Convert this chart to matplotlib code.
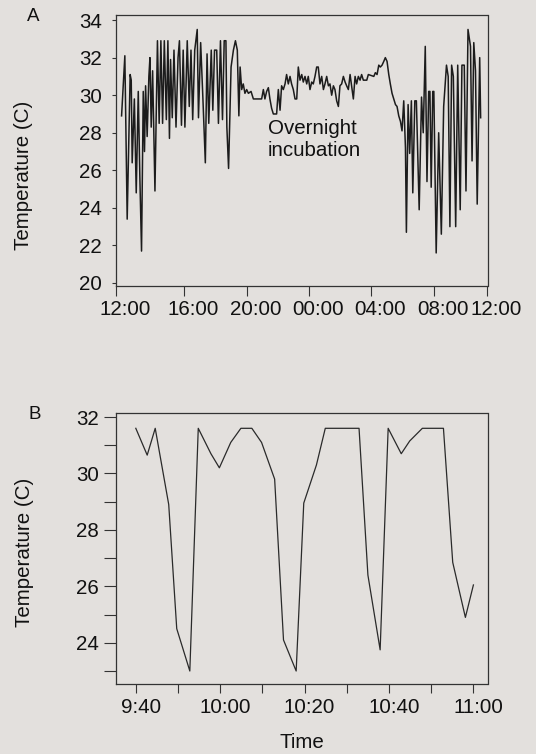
import matplotlib
matplotlib.use("Agg")
import matplotlib.pyplot as plt
from matplotlib.transforms import ScaledTranslation

plt.rcParams['font.family'] = ['Liberation Sans', 'DejaVu Sans']

# Panel A: hours since midnight of day 1, temperature (C)
a_hours = [
    11.98, 12.19, 12.34, 12.53, 12.60, 12.66, 12.80, 12.92, 13.05, 13.15,
    13.26, 13.37, 13.45, 13.52, 13.62, 13.73, 13.80, 13.88, 13.97, 14.12,
    14.28, 14.39, 14.50, 14.61, 14.72, 14.85, 14.95, 15.05, 15.12, 15.23,
    15.34, 15.47, 15.60, 15.69, 15.82, 15.93, 16.04, 16.19, 16.32, 16.43,
    16.54, 16.67, 16.83, 16.91, 17.05, 17.20, 17.35, 17.46, 17.57, 17.73,
    17.83, 17.94, 18.08, 18.19, 18.32, 18.45, 18.56, 18.67, 18.73, 18.84,
    19.00, 19.15, 19.28, 19.40, 19.50, 19.58, 19.68, 19.78, 19.89, 20.00,
    20.11, 20.28, 20.43, 20.96, 21.07, 21.17, 21.28, 21.39, 21.49, 21.60,
    21.71, 21.92, 22.03, 22.14, 22.24, 22.35, 22.46, 22.56, 22.67, 22.78,
    22.88, 22.99, 23.10, 23.21, 23.31, 23.42, 23.53, 23.63, 23.74, 23.85,
    23.95, 24.06, 24.17, 24.27, 24.38, 24.49, 24.59, 24.70, 24.81, 24.92,
    25.02, 25.13, 25.24, 25.34, 25.45, 25.56, 25.66, 25.77, 25.88, 25.98,
    26.09, 26.20, 26.31, 26.41, 26.52, 26.63, 26.73, 26.84, 26.95, 27.05,
    27.16, 27.27, 27.37, 27.48, 27.70, 27.80, 28.15, 28.25, 28.36, 28.47,
    28.57, 28.68, 28.79, 28.89, 29.00, 29.11, 29.21, 29.32, 29.43, 29.54,
    29.64, 29.75, 29.86, 29.96, 30.07, 30.18, 30.24, 30.35, 30.45, 30.56,
    30.65, 30.78, 30.88, 31.06, 31.21, 31.32, 31.45, 31.56, 31.67, 31.75,
    31.83, 31.93, 32.00, 32.15, 32.31, 32.48, 32.63, 32.81, 32.92, 33.03,
    33.14, 33.25, 33.40, 33.53, 33.69, 33.80, 33.95, 34.06, 34.19, 34.35,
    34.45, 34.56, 34.67, 34.78, 34.94, 35.00,
]
a_temp = [
    28.9, 32.1, 23.4, 31.1, 30.8, 26.4, 29.8, 24.8, 30.2, 25.7,
    21.7, 30.2, 27.0, 30.5, 27.8, 31.0, 32.0, 28.3, 31.3, 24.9,
    32.9, 28.5, 32.9, 28.5, 32.9, 28.7, 32.9, 27.7, 31.9, 28.8,
    32.4, 28.3, 32.0, 32.9, 28.4, 32.4, 28.3, 32.9, 29.4, 32.4,
    28.7, 32.4, 33.5, 28.8, 32.8, 29.7, 26.4, 32.2, 28.5, 32.4,
    29.2, 32.4, 32.4, 28.5, 32.9, 28.7, 32.9, 32.9, 28.3, 26.1,
    31.5, 32.4, 32.9, 32.4, 28.9, 31.5, 30.3, 30.6, 30.1, 30.3,
    30.1, 30.2, 29.8, 29.8, 30.3, 29.8, 30.2, 30.4, 29.8, 29.3,
    29.0, 29.0, 30.3, 29.2, 30.5, 30.3, 30.6, 31.1, 30.6, 31.0,
    30.6, 30.3, 29.8, 29.8, 31.5, 30.8, 31.1, 30.7, 31.0, 30.6,
    31.0, 30.3, 30.7, 30.6, 31.0, 31.5, 31.5, 30.6, 31.0, 30.3,
    30.6, 31.0, 30.5, 30.6, 30.0, 30.5, 30.3, 29.7, 29.4, 30.5,
    30.6, 31.0, 30.7, 30.5, 30.3, 31.1, 30.5, 29.8, 31.0, 30.6,
    31.0, 30.8, 31.1, 30.8, 30.8, 31.1, 31.0, 31.2, 31.1, 31.6,
    31.5, 31.6, 31.8, 32.0, 31.8, 31.1, 30.6, 30.1, 29.8, 29.5,
    29.4, 28.9, 28.6, 28.1, 29.7, 27.2, 22.7, 29.5, 26.9, 29.7,
    24.8, 29.7, 29.7, 23.9, 29.9, 28.0, 32.6, 25.4, 30.2, 30.2,
    25.1, 30.2, 30.2, 21.6, 28.0, 22.6, 29.4, 31.6, 31.0, 23.0,
    31.6, 31.0, 23.0, 31.6, 23.9, 31.6, 31.6, 24.9, 33.5, 32.6,
    26.5, 32.8, 31.3, 24.2, 32.0, 28.8,
]
a_ticks = [11.61, 16, 20, 24, 28, 32, 35.44]
a_ticklabels = ['12:00', '16:00', '20:00', '00:00', '04:00', '08:00', '12:00']
a_yticks = [20, 22, 24, 26, 28, 30, 32, 34]

# Panel B: minutes after 9:00, temperature (C)
b_minutes = [
    40.0, 42.7, 44.6, 47.8, 49.7, 52.8, 54.8, 57.8, 59.8, 62.5,
    64.9, 67.5, 69.8, 72.9, 75.0, 78.0, 79.8, 82.8, 84.9, 92.9,
    95.0, 97.9, 99.8, 102.9, 104.9, 107.9, 112.9, 115.1, 118.1, 120.0,
]
b_temp = [
    31.6, 30.65, 31.6, 28.9, 24.5, 23.0, 31.6, 30.7, 30.2, 31.1,
    31.6, 31.6, 31.1, 29.8, 24.1, 23.0, 28.95, 30.3, 31.6, 31.6,
    26.4, 23.75, 31.6, 30.7, 31.15, 31.6, 31.6, 26.85, 24.9, 26.05,
]
b_ticks = [40, 60, 80, 100, 120]
b_ticklabels = ['9:40', '10:00', '10:20', '10:40', '11:00']
b_minor_x = [50, 70, 90, 110]
b_yticks = [24, 26, 28, 30, 32]
b_minor_y = [23, 25, 27, 29, 31]

bg = '#e3e0dd'
ink = '#1c1c1c'
fs = 14.8

fig = plt.figure(figsize=(5.36, 7.54), dpi=100, facecolor=bg)
W, H = 536, 754
left, right = 115.8, 487.5

ax1 = fig.add_axes([left / W, 1 - 286 / H, (right - left) / W, (286 - 15) / H])
ax2 = fig.add_axes([left / W, 1 - 684 / H, (right - left) / W, (684 - 412.5) / H])

for ax in (ax1, ax2):
    ax.set_facecolor(bg)
    for s in ax.spines.values():
        s.set_color('#333333')
        s.set_linewidth(0.9)

# panel A
ax1.plot(a_hours, a_temp, color=ink, lw=1.1)
ax1.set_xlim(11.61, 35.44)
ax1.set_ylim(19.84, 34.27)
ax1.set_xticks(a_ticks)
ax1.set_xticklabels(a_ticklabels)
ax1.set_yticks(a_yticks)
ax1.tick_params(axis='x', direction='out', length=7.2, width=0.8, pad=3.0,
                labelsize=fs, colors='#333333', labelcolor='#111111')
ax1.tick_params(axis='y', direction='out', length=3.2, width=0.8, pad=7.0,
                labelsize=fs, colors='#333333', labelcolor='#111111')
ax1.set_ylabel('Temperature (C)', fontsize=fs, color='#111111')
ax1.yaxis.set_label_coords(-0.223, 0.41)
ax1.text(21.35, 28.71, 'Overnight\nincubation', fontsize=fs, color='#111111',
         ha='left', va='top', linespacing=1.2)

# panel B
ax2.plot(b_minutes, b_temp, color='#2a2a2a', lw=0.9)
ax2.set_xlim(35.26, 123.34)
ax2.set_ylim(22.54, 32.16)
ax2.set_xticks(b_ticks)
ax2.set_xticklabels(b_ticklabels)
ax2.set_xticks(b_minor_x, minor=True)
ax2.set_yticks(b_yticks)
ax2.set_yticks(b_minor_y, minor=True)
ax2.tick_params(axis='x', which='both', direction='out', length=6.7, width=0.8,
                pad=3.5, labelsize=fs, colors='#333333', labelcolor='#111111')
ax2.tick_params(axis='y', which='both', direction='out', length=8.6, width=0.8,
                pad=3.4, labelsize=fs, colors='#333333', labelcolor='#111111')
ax2.set_ylabel('Temperature (C)', fontsize=fs, color='#111111')
ax2.yaxis.set_label_coords(-0.22, 0.483)
ax2.set_xlabel('Time', fontsize=fs, color='#111111')
ax2.xaxis.set_label_coords(0.5, -0.182)

# the printed labels sit a little to the right of their ticks
for lbl in ax1.get_xticklabels():
    lbl.set_transform(lbl.get_transform() + ScaledTranslation(0.09, 0, fig.dpi_scale_trans))
for lbl in ax2.get_xticklabels():
    lbl.set_transform(lbl.get_transform() + ScaledTranslation(0.05, 0, fig.dpi_scale_trans))

fig.text(33.5 / W, 1 - 20.7 / H, 'A', fontsize=13.5, color='#111111', ha='center', va='baseline')
fig.text(35 / W, 1 - 419.3 / H, 'B', fontsize=13.5, color='#111111', ha='center', va='baseline')

fig.savefig('out.png', dpi=100, facecolor=bg)
